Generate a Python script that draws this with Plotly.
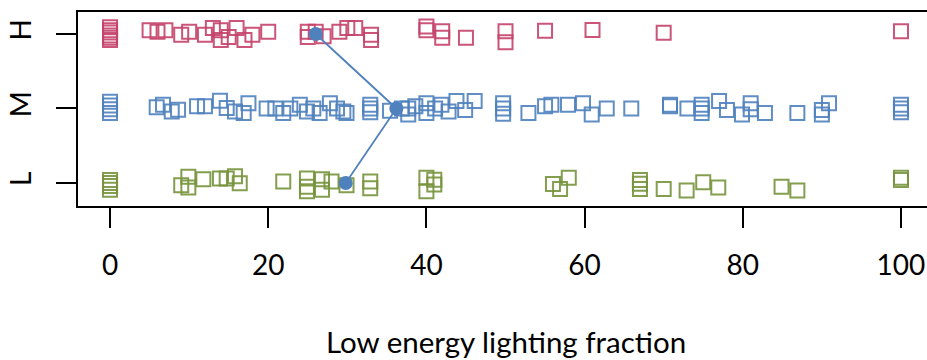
import plotly.graph_objects as go

# Lighting-efficiency groups (L, M, H on the y axis)
levels = ["L", "M", "H"]
level_pos = [1, 2, 3]

# Low energy lighting fraction (%) for each dwelling, per group
h_values = [0, 0, 0, 0, 0, 0, 5, 6, 7, 9, 10, 12, 13, 14, 14, 15, 16, 17, 18, 20,
            25, 25, 26, 27, 29, 30, 31, 33, 33, 40, 40, 42, 42, 45, 50, 50, 55, 61,
            70, 100]
m_values = [0, 0, 0, 0, 5.9, 6.7, 7.8, 8.6, 11, 12, 13.9, 14.75, 15.8, 16.9, 17.5,
            19.8, 20.9, 21.9, 22.8, 24, 24.9, 25.7, 26.5, 27.8, 28.7, 29.5, 29.9,
            32.9, 32.9, 32.9, 35.4, 36.9, 37.7, 37.7, 38.6, 40, 40, 41.1, 41.9, 42.8,
            43.8, 44.9, 46.1, 49.7, 49.7, 49.7, 52.9, 55, 55.8, 57.9, 59.8, 60.9,
            62.8, 65.9, 70.8, 70.8, 73, 74.8, 74.8, 74.8, 77, 78, 79.9, 81, 81, 82.8,
            86.9, 90, 90, 90.9, 100, 100, 100]
l_values = [0, 0, 0, 0, 9, 9.9, 9.9, 11.8, 13.9, 14.75, 15.8, 16.4, 21.9, 24.9, 24.9,
            24.9, 26.8, 26.8, 28, 29.9, 32.9, 32.9, 40, 40, 41, 41, 56, 56.9, 58, 67,
            67, 67, 70, 72.9, 75, 76.9, 84.9, 86.9, 100, 100]

# Group centre marks, drawn H -> M -> L and joined by a line
centre_values = [26, 36.2, 29.8]
centre_levels = [3, 2, 1]

# Vertical jitter (in level units) used to spread overlapping squares
h_jitter = [0.09, 0.05, 0.02, -0.02, -0.05, -0.08, 0.05, 0.03, 0.05, -0.01, 0.03,
            -0.01, 0.08, 0.05, -0.08, -0.04, 0.08, -0.08, -0.01, 0.03, 0.03, -0.04,
            0.03, -0.03, 0.03, 0.08, 0.08, -0.01, -0.08, 0.1, 0.05, 0.035, -0.05,
            -0.05, 0.035, -0.11, 0.045, 0.055, 0.015, 0.035]
m_jitter = [0.09, 0.04, -0.01, -0.06, 0.016, 0.05, -0.04, -0.016, 0.03, 0.03, 0.105,
            0.007, -0.04, -0.06, 0.07, 0.0, 0.0, -0.06, 0.0, 0.05, -0.04, 0.0, -0.06,
            0.07, 0.0, -0.04, -0.06, 0.05, 0.0, -0.05, -0.03, 0.0, 0.0, -0.08, 0.03,
            0.07, -0.06, 0.0, 0.05, -0.04, 0.1, -0.02, 0.1, 0.07, 0.0, -0.07, -0.06,
            0.03, 0.05, 0.05, 0.07, -0.08, 0.0, 0.0, 0.05, 0.03, 0.0, 0.05, 0.0, -0.06,
            0.1, -0.02, -0.08, 0.07, -0.01, -0.06, -0.06, -0.02, -0.08, 0.07, 0.05,
            0.0, -0.05]
l_jitter = [0.04, 0.0, -0.04, -0.09, -0.03, 0.085, -0.06, 0.05, 0.06, 0.06, 0.09,
            -0.005, 0.02, 0.06, -0.05, -0.11, 0.05, -0.09, 0.02, -0.03, 0.02, -0.07,
            0.07, -0.11, 0.045, -0.02, -0.015, -0.08, 0.07, 0.04, -0.01, -0.08, -0.08,
            -0.1, 0.01, -0.06, -0.05, -0.1, 0.07, 0.04]

colors = {"H": "#C4426A", "M": "#4F81BD", "L": "#77933C"}
font_family = "Lato, Carlito, 'Open Sans', sans-serif"

fig = go.Figure()

for name, vals, jit, base in [("L", l_values, l_jitter, 1),
                              ("M", m_values, m_jitter, 2),
                              ("H", h_values, h_jitter, 3)]:
    fig.add_trace(go.Scatter(
        x=vals,
        y=[base + j for j in jit],
        mode="markers",
        marker=dict(symbol="square-open", size=14, color=colors[name],
                    line=dict(width=2, color=colors[name]), opacity=0.9),
        hoverinfo="x",
        showlegend=False,
    ))

fig.add_trace(go.Scatter(
    x=centre_values,
    y=centre_levels,
    mode="lines+markers",
    line=dict(color="#4F81BD", width=1.8),
    marker=dict(symbol="circle", size=14, color="#4F81BD"),
    showlegend=False,
))

fig.add_annotation(
    text="Low energy lighting fraction",
    xref="paper", yref="paper",
    x=(506 - 78) / (927 - 78), y=-135 / 194,
    xanchor="center", yanchor="middle",
    showarrow=False,
    font=dict(family=font_family, size=29.5, color="#000000"),
)

fig.update_layout(
    width=927, height=360,
    margin=dict(l=78, r=0, t=12, b=154),
    paper_bgcolor="white", plot_bgcolor="white",
    font=dict(family=font_family, size=28, color="#000000"),
    xaxis=dict(
        range=[-4.05, 103.29],
        tickvals=[0, 20, 40, 60, 80, 100],
        ticks="outside", ticklen=20, tickwidth=2, tickcolor="black",
        showline=True, linewidth=2, linecolor="black", mirror=True,
        showgrid=False, zeroline=False,
        ticklabelstandoff=13, automargin=False,
        tickfont=dict(family=font_family, size=28, color="black"),
    ),
    yaxis=dict(
        range=[0.691, 3.295],
        tickvals=level_pos, ticktext=levels,
        tickangle=-90,
        ticks="outside", ticklen=20, tickwidth=2, tickcolor="black",
        showline=True, linewidth=2, linecolor="black",
        showgrid=False, zeroline=False,
        ticklabelstandoff=14, automargin=False,
        tickfont=dict(family=font_family, size=28, color="black"),
    ),
)

fig.write_html("out.html")
